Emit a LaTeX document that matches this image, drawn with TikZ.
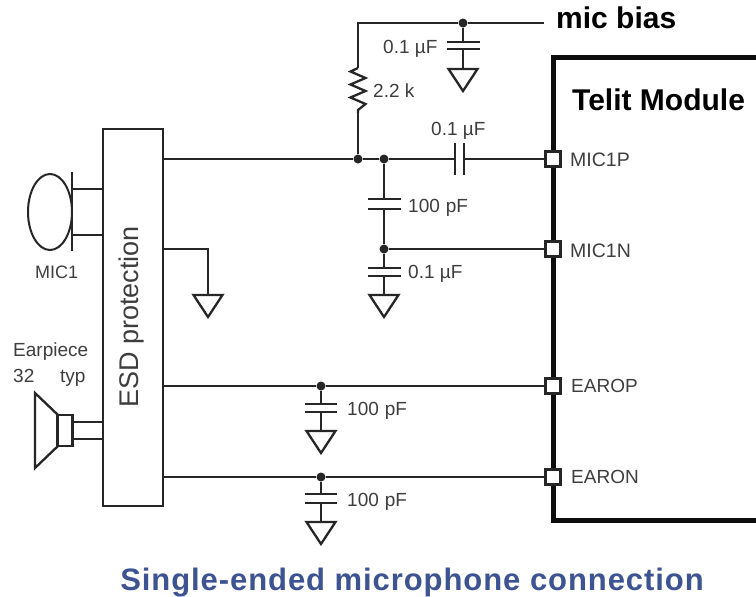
\documentclass[tikz,border=0pt]{standalone}
\usepackage{fontspec}
\setmainfont{Liberation Sans}
\newfontfamily\titlefont[LetterSpace=3]{Liberation Sans}
\usetikzlibrary{shapes.geometric}
\definecolor{ink}{RGB}{38,38,38}
\definecolor{labelgrey}{RGB}{62,62,62}
\definecolor{titleblue}{RGB}{62,84,146}
\tikzset{
  wire/.style={draw=ink,line width=2.6pt},
  thinwire/.style={draw=ink,line width=2.3pt},
  modline/.style={draw=black!95,line width=5pt,line cap=butt,line join=miter},
  plate/.style={draw=ink,line width=2.6pt},
  dot/.style={circle,fill=ink,inner sep=0pt,minimum size=9pt},
  pin/.style={rectangle,draw=ink,fill=white,line width=2.2pt,minimum size=15pt,inner sep=0pt},
  lab/.style={anchor=base west,inner sep=0pt,text=labelgrey,font=\fontsize{19}{19}\selectfont},
  val/.style={anchor=base west,inner sep=0pt,text=labelgrey,font=\fontsize{19}{19}\selectfont},
  big/.style={anchor=base west,inner sep=0pt,text=black,font=\fontsize{30}{30}\selectfont\bfseries},
  blockbox/.style={rectangle,draw=ink,line width=2.8pt,fill=white,inner sep=0pt},
  pics/gndsym/.style={code={
    \draw[thinwire,line join=miter] (-14.5,0) -- (14.5,0) -- (0,22) -- cycle;
  }}
}
\begin{document}
\begin{tikzpicture}[x=1pt,y=-1pt]
\useasboundingbox (0,0) rectangle (756,597);
\fill[white] (0,0) rectangle (756,597);

% Telit module outline
\coordinate (mTR) at (760,57);
\coordinate (mTL) at (553,57);
\coordinate (mBL) at (553,520);
\coordinate (mBR) at (760,520);
\draw[modline] (mTR) -- (mTL) -- (mBL) -- (mBR);

% ESD block
\node[blockbox,minimum width=60pt,minimum height=377pt] (esd) at (133,317.5) {};
\node[rotate=90,anchor=base,inner sep=0pt,text=labelgrey,font=\fontsize{27}{27}\selectfont] (esdt) at (138,317) {ESD protection};

% Pins
\node[pin] (p1) at (553,159) {};
\node[pin] (p2) at (553,249) {};
\node[pin] (p3) at (553,386) {};
\node[pin] (p4) at (553,477) {};

% Junctions
\node[dot] (jb) at (463,23) {};
\node[dot] (j1) at (358,159) {};
\node[dot] (j2) at (384,159) {};
\node[dot] (j3) at (384,249) {};
\node[dot] (j4) at (321,386) {};
\node[dot] (j5) at (321,477) {};

% free ends and helpers
\coordinate (esdA) at (163,159);
\coordinate (esdB) at (163,249);
\coordinate (esdC) at (163,386);
\coordinate (esdD) at (163,477);
\coordinate (biasEnd) at (544,23);
\coordinate (corner) at (358,23);
\coordinate (rTop) at (358,68);
\coordinate (rBot) at (358,113);

% Main wires
\draw[wire] (esdA) -- (j1) -- (j2) -- (455,159);
\draw[wire] (464,159) -- (p1);
\draw[wire] (j3) -- (p2);
\draw[wire] (esdC) -- (j4) -- (p3);
\draw[wire] (esdD) -- (j5) -- (p4);
\draw[wire] (j1) -- (rBot);
\draw[wire,line join=miter] (rTop) -- (corner) -- (jb) -- (biasEnd);
\draw[thinwire,line join=miter] (rTop) -- (350.5,71.5) -- (365.5,78) -- (350.5,84.5) -- (365.5,91) -- (350.5,97.5) -- (365.5,104) -- (358,110) -- (rBot);

% Series capacitor
\draw[plate] (455,143) -- (455,175);
\draw[plate] (464,143) -- (464,175);

% Bias capacitor + ground
\draw[wire] (jb) -- (463,42);
\draw[plate] (447,42) -- (480,42);
\draw[plate] (447,49) -- (480,49);
\draw[wire] (463,49) -- (463,69);
\pic at (463,69) {gndsym};

% 100 pF and lower 0.1 uF
\draw[wire] (j2) -- (384,199);
\draw[plate] (368,199) -- (401,199);
\draw[plate] (368,209) -- (401,209);
\draw[wire] (384,209) -- (j3);
\draw[wire] (j3) -- (384,268);
\draw[plate] (368,268) -- (401,268);
\draw[plate] (368,276) -- (401,276);
\draw[wire] (384,276) -- (384,295);
\pic at (384,295) {gndsym};

% Ear caps
\draw[wire] (j4) -- (321,404);
\draw[plate] (305,404) -- (337,404);
\draw[plate] (305,412) -- (337,412);
\draw[wire] (321,412) -- (321,431);
\pic at (321,431) {gndsym};
\draw[wire] (j5) -- (321,494);
\draw[plate] (305,494) -- (337,494);
\draw[plate] (305,503) -- (337,503);
\draw[wire] (321,503) -- (321,522);
\pic at (321,522) {gndsym};

% ESD ground
\draw[wire,line join=miter] (esdB) -- (208,249) -- (208,295);
\pic at (208,295) {gndsym};

% Microphone
\node[ellipse,draw=ink,line width=2pt,minimum width=44pt,minimum height=76pt,inner sep=0pt] (mic) at (50,212) {};
\draw[plate] (72,172) -- (72,251);
\draw[wire] (72,189) -- (103,189);
\draw[wire] (72,235) -- (103,235);

% Earpiece
\draw[thinwire,line join=miter] (58,415) -- (35,393) -- (35,468) -- (58,446);
\node[rectangle,draw=ink,line width=2.6pt,minimum width=15pt,minimum height=31pt,inner sep=0pt] (ear) at (65,430.5) {};
\draw[wire] (72,422) -- (103,422);
\draw[wire] (72,439) -- (103,439);

% Labels
\node[big] (micbias) at (556,28) {mic bias};
\node[big,font=\fontsize{30}{30}\selectfont\bfseries] (telit) at (572,110) {Telit Module};
\node[lab,font=\fontsize{19.5}{19.5}\selectfont] (l1) at (570,166) {MIC1P};
\node[lab,font=\fontsize{19.5}{19.5}\selectfont] (l2) at (570,257) {MIC1N};
\node[lab,font=\fontsize{19}{19}\selectfont] (l3) at (571,392) {EAROP};
\node[lab,font=\fontsize{19}{19}\selectfont] (l4) at (571,483) {EARON};
\node[val] (v1) at (383,53) {0.1 µF};
\node[val] (v2) at (373,97) {2.2 k};
\node[val] (v3) at (431,135) {0.1 µF};
\node[val] (v4) at (408,212) {100\hspace{6pt}pF};
\node[val] (v5) at (408,278) {0.1 µF};
\node[val] (v6) at (347,415) {100\hspace{6pt}pF};
\node[val] (v7) at (347,506) {100\hspace{6pt}pF};
\node[lab,font=\fontsize{18}{18}\selectfont] (l5) at (35,278) {MIC1};
\node[lab] (l6) at (13,356) {Earpiece};
\node[lab] (l7) at (13,382) {32};
\node[lab] (l8) at (60,382) {typ};
\node[anchor=base,inner sep=0pt,text=titleblue,font=\titlefont\fontsize{31}{31}\selectfont\bfseries] (title) at (412,590) {Single-ended microphone connection};
\end{tikzpicture}
\end{document}
